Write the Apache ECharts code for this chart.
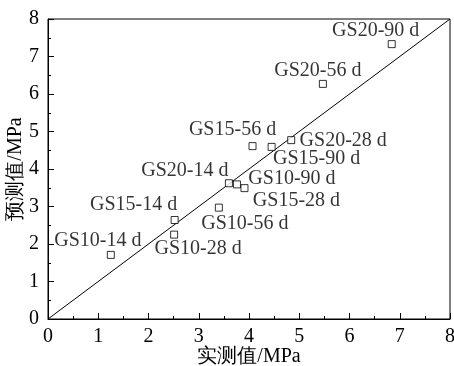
<!DOCTYPE html>
<html><head><meta charset="utf-8">
<script src="https://cdn.jsdelivr.net/npm/echarts@6/dist/echarts.min.js"></script>
<style>html,body{margin:0;padding:0;background:#fff}#c{width:454px;height:366px}</style>
</head><body><div id="c"></div>
<script>
const names = ['GS10-14 d','GS15-14 d','GS10-28 d','GS10-56 d','GS20-14 d','GS10-90 d','GS15-28 d','GS15-56 d','GS15-90 d','GS20-28 d','GS20-56 d','GS20-90 d'];
const measured = [1.25, 2.52, 2.51, 3.40, 3.60, 3.76, 3.91, 4.07, 4.45, 4.84, 5.47, 6.84];
const predicted = [1.71, 2.64, 2.25, 2.97, 3.62, 3.59, 3.49, 4.61, 4.59, 4.77, 6.27, 7.33];
const lineX = [0, 8];
const lineY = [0, 8];
const axisTicks = [0,1,2,3,4,5,6,7,8];

// label offsets (style only)
const offsets = [[-13,-14],[-41,-15],[24,14],[26,16],[-44,-13],[55,-6],[52,13],[-20,-16],[45,12],[52,1],[-5,-13],[-16,-13]];

const font = '"Liberation Serif", "Times New Roman", serif';
const chart = echarts.init(document.getElementById('c'));
const axisCommon = {
  min: 0, max: 8, interval: 1,
  nameMoveOverlap: false,
  axisLine: {show: true, lineStyle: {color: '#000', width: 1}},
  axisTick: {show: true, inside: true, length: 6, lineStyle: {color: '#000'}},
  minorTick: {show: true, splitNumber: 2, length: 3, lineStyle: {color: '#000'}},
  splitLine: {show: false},
  axisLabel: {color: '#000', fontFamily: font, fontSize: 20, formatter: v => axisTicks.includes(v) ? String(v) : ''},
  nameTextStyle: {color: '#000', fontFamily: font, fontSize: 20}
};
chart.setOption({
  animation: false,
  grid: {left: 48, right: 4, top: 19, bottom: 47, show: true, borderColor: '#000', borderWidth: 1, outerBoundsMode: 'none', containLabel: false},
  xAxis: Object.assign({}, axisCommon, {type: 'value', name: '实测值/MPa', nameLocation: 'middle', nameGap: 28,
    axisLabel: Object.assign({}, axisCommon.axisLabel, {margin: 8})}),
  yAxis: Object.assign({}, axisCommon, {type: 'value', name: '预测值/MPa', nameLocation: 'middle', nameGap: 22,
    axisLabel: Object.assign({}, axisCommon.axisLabel, {margin: 9})}),
  series: [
    {type: 'line', data: lineX.map((x,i)=>[x,lineY[i]]), symbol: 'none', lineStyle: {color: '#000', width: 1}, z: 1},
    {type: 'scatter', symbol: 'rect', symbolSize: 7,
      itemStyle: {color: '#fff', borderColor: '#000', borderWidth: 1},
      data: measured.map((x,i)=>({value: [x, predicted[i]], name: names[i],
        label: {show: true, position: 'inside', offset: offsets[i], formatter: names[i],
          color: '#000', fontFamily: font, fontSize: 20, align: 'center', verticalAlign: 'middle'}})),
      z: 3}
  ]
});
</script></body></html>
